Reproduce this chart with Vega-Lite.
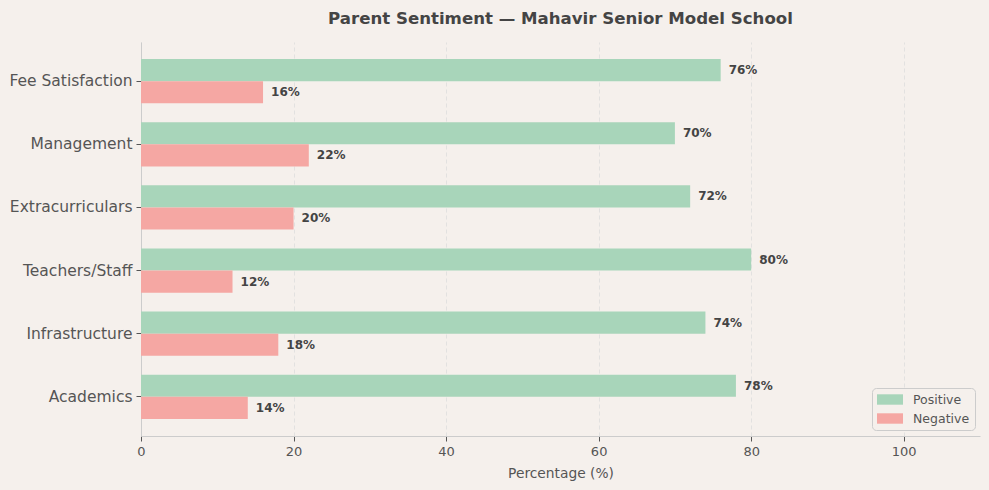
{
  "$schema": "https://vega.github.io/schema/vega-lite/v6.json",
  "autosize": {"type": "none"},
  "width": 839,
  "height": 394,
  "padding": {"left": 141, "top": 42, "right": 9, "bottom": 54},
  "background": "#f5f0ec",
  "title": {
    "text": "Parent Sentiment — Mahavir Senior Model School",
    "font": "DejaVu Sans",
    "fontSize": 16.6,
    "fontWeight": "bold",
    "color": "#444444",
    "anchor": "middle",
    "offset": 14
  },
  "data": {
    "values": [
      {"aspect": "Fee Satisfaction", "sentiment": "Positive", "value": 76},
      {"aspect": "Fee Satisfaction", "sentiment": "Negative", "value": 16},
      {"aspect": "Management", "sentiment": "Positive", "value": 70},
      {"aspect": "Management", "sentiment": "Negative", "value": 22},
      {"aspect": "Extracurriculars", "sentiment": "Positive", "value": 72},
      {"aspect": "Extracurriculars", "sentiment": "Negative", "value": 20},
      {"aspect": "Teachers/Staff", "sentiment": "Positive", "value": 80},
      {"aspect": "Teachers/Staff", "sentiment": "Negative", "value": 12},
      {"aspect": "Infrastructure", "sentiment": "Positive", "value": 74},
      {"aspect": "Infrastructure", "sentiment": "Negative", "value": 18},
      {"aspect": "Academics", "sentiment": "Positive", "value": 78},
      {"aspect": "Academics", "sentiment": "Negative", "value": 14}
    ]
  },
  "transform": [{"calculate": "datum.value + '%'", "as": "label"}],
  "encoding": {
    "y": {
      "field": "aspect",
      "type": "nominal",
      "sort": ["Fee Satisfaction", "Management", "Extracurriculars", "Teachers/Staff", "Infrastructure", "Academics"],
      "scale": {"paddingInner": 0.3, "paddingOuter": 0.27},
      "axis": {"title": null, "labelFontSize": 15.5, "labelPadding": 4, "tickSize": 5, "grid": false}
    },
    "yOffset": {
      "field": "sentiment",
      "type": "nominal",
      "scale": {"domain": ["Positive", "Negative"], "paddingInner": 0, "paddingOuter": 0}
    },
    "x": {
      "field": "value",
      "type": "quantitative",
      "scale": {"domain": [0, 110], "nice": false},
      "axis": {
        "title": "Percentage (%)",
        "values": [0, 20, 40, 60, 80, 100],
        "labelFontSize": 13,
        "labelFlush": false,
        "titleFontSize": 13.8,
        "titleFontWeight": "normal",
        "titlePadding": 8,
        "tickSize": 5,
        "labelPadding": 4,
        "grid": true,
        "gridDash": [4, 3],
        "gridColor": "#dddddd",
        "gridOpacity": 0.8
      }
    }
  },
  "layer": [
    {
      "mark": {"type": "bar"},
      "encoding": {
        "color": {
          "field": "sentiment",
          "type": "nominal",
          "scale": {"domain": ["Positive", "Negative"], "range": ["#a8d5ba", "#f5a7a3"]},
          "legend": {
            "title": null,
            "orient": "none",
            "legendX": 731,
            "legendY": 346,
            "padding": 5,
            "strokeColor": "#cccccc",
            "fillColor": "#f5f0ec",
            "cornerRadius": 4,
            "labelFontSize": 12.5,
            "labelColor": "#555555",
            "symbolType": "M-2,-0.8H2V0.8H-2Z",
            "symbolSize": 169,
            "symbolOffset": 6.5,
            "symbolStrokeWidth": 0,
            "labelOffset": 16.5,
            "rowPadding": 6
          }
        }
      }
    },
    {
      "mark": {"type": "text", "align": "left", "baseline": "middle", "dx": 8, "fontWeight": "bold", "fontSize": 12, "color": "#444444", "font": "DejaVu Sans"},
      "encoding": {"text": {"field": "label", "type": "nominal"}}
    }
  ],
  "config": {
    "view": {"stroke": null},
    "font": "DejaVu Sans",
    "axis": {
      "domainColor": "#cccccc",
      "tickColor": "#555555",
      "labelColor": "#555555",
      "titleColor": "#555555",
      "labelFont": "DejaVu Sans",
      "titleFont": "DejaVu Sans"
    },
    "legend": {"labelFont": "DejaVu Sans"}
  }
}
